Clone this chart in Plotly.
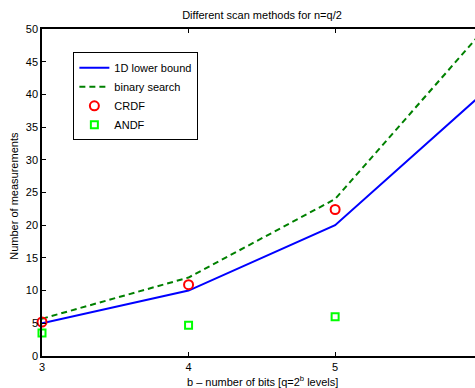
import plotly.graph_objects as go

bits = [3, 4, 5, 6]
lower_bound = [5, 10, 20, 40]
binary_search = [5.7, 12, 24, 49.5]
crdf_bits = [3, 4, 5]
crdf = [5.2, 10.9, 22.4]
andf_bits = [3, 4, 5]
andf = [3.5, 4.7, 6.0]
x_ticks = [3, 4, 5, 6]
y_ticks = [0, 5, 10, 15, 20, 25, 30, 35, 40, 45, 50]

W, H = 475, 388
L, T, B = 41.6, 28.7, 32.3
FONT = "Liberation Sans, Arial, Helvetica, sans-serif"

fig = go.Figure()
fig.add_trace(go.Scatter(x=bits, y=lower_bound, mode="lines", name="1D lower bound",
                         line=dict(color="#0000ff", width=2)))
fig.add_trace(go.Scatter(x=bits, y=binary_search, mode="lines", name="binary search",
                         line=dict(color="#008000", width=2, dash="6px,4px")))
fig.add_trace(go.Scatter(x=crdf_bits, y=crdf, mode="markers", name="CRDF", cliponaxis=False,
                         marker=dict(symbol="circle-open", size=9, color="#ff0000",
                                     line=dict(width=2, color="#ff0000"))))
fig.add_trace(go.Scatter(x=andf_bits, y=andf, mode="markers", name="ANDF", cliponaxis=False,
                         marker=dict(symbol="square-open", size=7, color="#00ff00",
                                     line=dict(width=2, color="#00ff00"))))

xmax = 3 + (W - L) / 146.7

fig.update_layout(
    width=W, height=H,
    margin=dict(l=L, r=0, t=T, b=B, pad=0, autoexpand=False),
    paper_bgcolor="white", plot_bgcolor="white",
    font=dict(family=FONT, size=11, color="black"),
    title=dict(text="Different scan methods for n=q/2", x=262 / W, xref="container",
               xanchor="center", y=1 - 15 / H, yref="container", yanchor="middle",
               font=dict(size=11, family=FONT)),
    xaxis=dict(range=[3, xmax], tickvals=x_ticks, showgrid=False, zeroline=False,
               showline=True, linecolor="black", linewidth=2, mirror="ticks",
               ticks="inside", ticklen=4, tickwidth=1, tickcolor="black",
               tickfont=dict(size=11), automargin=False),
    yaxis=dict(range=[0, 50], tickvals=y_ticks, showgrid=False, zeroline=False,
               showline=True, linecolor="black", linewidth=1.5, mirror=False,
               ticks="inside", ticklen=4, tickwidth=1, tickcolor="black",
               tickfont=dict(size=11), automargin=False),
    legend=dict(x=(73 - L) / (W - L), y=(H - B - 52) / (H - T - B), xanchor="left", yanchor="top",
                bgcolor="white", bordercolor="black", borderwidth=1,
                font=dict(size=11), itemwidth=30, tracegroupgap=0),
    showlegend=True,
    annotations=[
        dict(text="b \u2013 number of bits [q=2<sup>b</sup> levels]", xref="paper", yref="paper",
             x=(262 - L) / (W - L), y=-(381 - (H - B)) / (H - T - B), xanchor="center",
             yanchor="middle", showarrow=False, font=dict(size=11)),
        dict(text="Number of measurements", xref="paper", yref="paper",
             x=-(L - 14) / (W - L), y=(H - B - 195) / (H - T - B), xanchor="center",
             yanchor="middle", textangle=-90, showarrow=False, font=dict(size=11)),
    ],
)

fig.write_html("out.html", config={"displayModeBar": False},
               post_script="document.body.style.margin='0';document.body.style.overflow='hidden';")
